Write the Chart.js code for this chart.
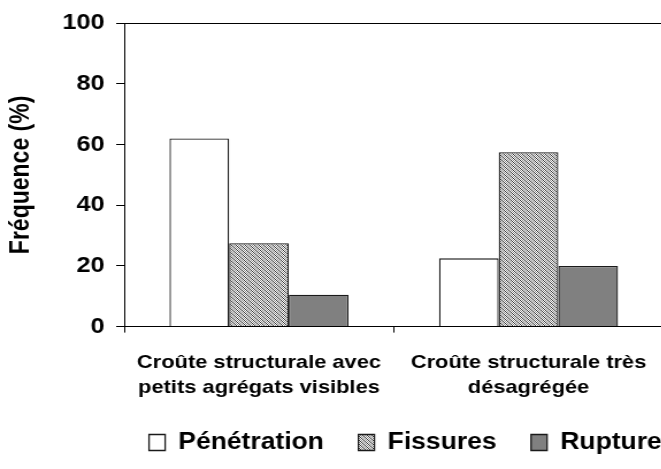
<!DOCTYPE html>
<html>
<head>
<meta charset="utf-8">
<script src="https://cdn.jsdelivr.net/npm/chart.js@4/dist/chart.umd.min.js"></script>
<style>
  html, body { margin: 0; padding: 0; background: #fff; overflow: hidden; }
  #wrap { width: 661px; height: 469px; overflow: hidden; }
  #c { transform: scaleX(1.15); transform-origin: 0 0; display: block; }
</style>
</head>
<body>
<div id="wrap"><canvas id="c" width="580" height="469"></canvas></div>
<script>
const categories = [
  ["Croûte structurale avec", "petits agrégats visibles"],
  ["Croûte structurale très", "désagrégée"]
];
const seriesNames = ["Pénétration", "Fissures", "Rupture"];
const penetration = [62, 22.5];
const fissures = [27.5, 57.5];
const rupture = [10.5, 20];
const yTicks = [0, 20, 40, 60, 80, 100];

function hatch() {
  const t = document.createElement('canvas');
  t.width = 4; t.height = 4;
  const g = t.getContext('2d');
  g.fillStyle = '#ffffff'; g.fillRect(0, 0, 4, 4);
  const shade = ['#333333', '#ffffff', '#8a8a8a', '#ffffff'];
  for (let y = 0; y < 4; y++) {
    for (let x = 0; x < 4; x++) {
      const d = ((x - y) % 4 + 4) % 4;
      g.fillStyle = shade[d]; g.fillRect(x, y, 1, 1);
    }
  }
  return document.getElementById('c').getContext('2d').createPattern(t, 'repeat');
}

const FONT = "'Liberation Sans', Arial, sans-serif";
const legendPlugin = {
  id: 'legendPlace',
  afterInit(c) {
    const lg = c.legend;
    const orig = lg.fit.bind(lg);
    lg.fit = function () { orig(); this.height = 51; };
  },
  afterLayout(c) {
    const lg = c.legend;
    const h = 63;
    lg.left = 99.6; lg.right = 1000;
    lg.top = 401; lg.bottom = lg.top + h; lg.height = h;
  }
};

const border = '#1a1a1a';
new Chart(document.getElementById('c'), {
  type: 'bar',
  data: {
    labels: categories,
    datasets: [
      { label: seriesNames[0], data: penetration, backgroundColor: '#ffffff', borderColor: border, borderWidth: 1.3 },
      { label: seriesNames[1], data: fissures, backgroundColor: hatch(), borderColor: border, borderWidth: 1.3 },
      { label: seriesNames[2], data: rupture, backgroundColor: '#808080', borderColor: border, borderWidth: 1.3 }
    ]
  },
  options: {
    responsive: false,
    animation: false,
    devicePixelRatio: 1,
    layout: { padding: { top: 22, right: 0, bottom: 0, left: 0 } },
    datasets: { bar: { categoryPercentage: 0.664, barPercentage: 1.0 } },
    plugins: {
      tooltip: { enabled: false },
      legend: {
        position: 'bottom',
        align: 'start',
        labels: {
          color: '#000',
          font: { family: FONT, size: 23, weight: 'bold' },
          boxWidth: 14, boxHeight: 16, padding: 30
        }
      }
    },
    scales: {
      x: {
        grid: { offset: true, drawOnChartArea: false, drawTicks: true, tickLength: 6, tickColor: '#000', lineWidth: 1 },
        border: { display: true, color: '#000', width: 1 },
        ticks: {
          color: '#000', maxRotation: 0, autoSkip: false, padding: 18,
          font: { family: FONT, size: 19, weight: 'bold', lineHeight: 1.3 }
        }
      },
      y: {
        min: 0, max: 100,
        afterFit(s) { s.width = 108; },
        afterBuildTicks(s) { s.ticks = yTicks.map(v => ({ value: v })); },
        grid: {
          drawTicks: true, tickLength: 7, tickColor: '#000',
          color: (ctx) => (ctx.tick && ctx.tick.value === 100) ? '#000' : 'rgba(0,0,0,0)',
          lineWidth: 1
        },
        border: { display: true, color: '#000', width: 1 },
        ticks: {
          color: '#000', padding: 10,
          font: { family: FONT, size: 22, weight: 'bold' }
        },
        title: {
          display: true, text: 'Fréquence (%)', color: '#000',
          font: { family: FONT, size: 23, weight: 'bold', lineHeight: 1.2 },
          padding: { top: 5, bottom: 0 }
        }
      }
    }
  },
  plugins: [legendPlugin]
});
</script>
</body>
</html>
